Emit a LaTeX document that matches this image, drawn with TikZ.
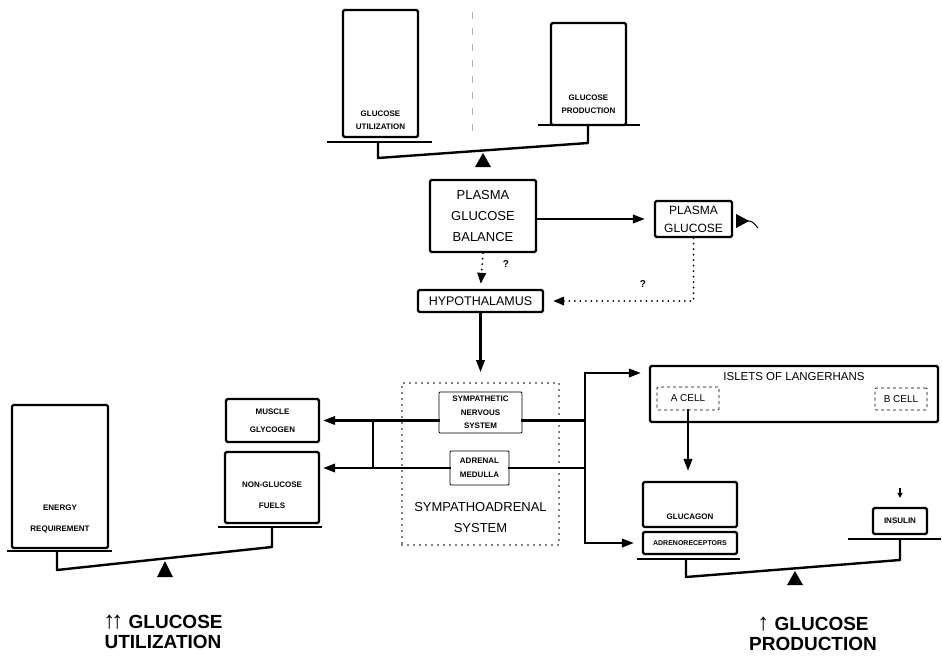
\documentclass[tikz,border=0pt]{standalone}
\usepackage{fontspec}
\setmainfont{Liberation Sans}
\usepackage{tikz}
\usetikzlibrary{positioning, arrows.meta, calc}

\begin{document}
\begin{tikzpicture}[x=1pt, y=-1pt,
    every node/.style={inner sep=0pt, align=center},
    box/.style={draw, line width=2.3pt, rounded corners=1.5pt},
    thinbox/.style={draw, line width=0.8pt, rounded corners=1pt},
    cellbox/.style={draw, line width=0.7pt, dashed, rounded corners=1pt},
    dotbox/.style={draw, line width=1.8pt, line cap=round, dash pattern=on 0pt off 6pt},
    midtxt/.style={font=\fontsize{13}{21}\selectfont},
    tinytxt/.style={font=\bfseries\fontsize{8}{13.5}\selectfont},
    bigcap/.style={font=\bfseries\fontsize{19}{20.5}\selectfont},
    link/.style={line width=2.2pt, line cap=rect},
    flow/.style={link, -{Triangle[length=12pt,width=8.5pt]}},
    query/.style={line width=2pt, line cap=round, dash pattern=on 0pt off 5.5pt, -{Triangle[length=11pt,width=8.5pt]}},
    pan/.style={line width=2pt},
    beam/.style={line width=2.4pt, line join=round}]
    \useasboundingbox (0,0) rectangle (942,658);

    % Top balance
    \node[box, minimum width=75pt, minimum height=127pt] (utilbox) at (380.5,73.5) {};
    \node[tinytxt, above=8pt of utilbox.south] (utiltxt) {GLUCOSE\\UTILIZATION};
    \node[box, minimum width=75pt, minimum height=102pt] (prodbox) at (588.5,74) {};
    \node[tinytxt, above=12pt of prodbox.south] (prodtxt) {GLUCOSE\\PRODUCTION};
    \draw[pan] (327,142) -- (432,142);
    \draw[pan] (538,125) -- (640,125);
    \draw[beam] (378,142) -- (378,158) -- (588,143) -- (588,125);
    \fill (483,153) -- (491,167) -- (475,167) -- cycle;
    \draw[gray!60, line width=0.6pt, dash pattern=on 7pt off 9pt] (472,12) -- (472,134);

    % Plasma glucose and hypothalamus
    \node[box, midtxt, minimum width=106pt, minimum height=72pt] (balance) at (483,216) {PLASMA\\GLUCOSE\\BALANCE};
    \node[box, font=\fontsize{12}{18}\selectfont, minimum width=77pt, minimum height=36pt] (plasma) at (693.5,219) {PLASMA\\GLUCOSE};
    \node[box, font=\fontsize{12.5}{14}\selectfont, minimum width=125pt, minimum height=22pt] (hypo) at (480.5,301) {HYPOTHALAMUS};
    \coordinate (needle) at ($(plasma.east)+(3,2)$);
    \fill (needle) ++(0,-7) -- ++(13,7) -- ++(-13,7) -- cycle;
    \draw[line width=1pt] (746,221) .. controls (752,221) .. (758,228);

    \draw[flow, shorten >=9pt] (balance.east |- plasma) -- (plasma.west);
    \draw[query, shorten >=5pt] (balance.south) -- (hypo.north);
    \draw[query, shorten >=9pt] (plasma.south) |- (hypo.east);
    \node[font=\bfseries\fontsize{10}{12}\selectfont] (q1) at (506,264) {?};
    \node[font=\bfseries\fontsize{10}{12}\selectfont] (q2) at (643,284) {?};

    % Sympathoadrenal system
    \node[dotbox, minimum width=157pt, minimum height=162pt] (sas) at (480.5,464) {};
    \node[font=\fontsize{13}{21}\selectfont, above=13pt of sas.south] (sastxt) {SYMPATHOADRENAL\\SYSTEM};
    \node[thinbox, tinytxt, minimum width=83pt, minimum height=41pt] (sns) at (480.5,412.5) {SYMPATHETIC\\NERVOUS\\SYSTEM};
    \node[thinbox, tinytxt, minimum width=59pt, minimum height=34pt] (adm) at (479.5,468) {ADRENAL\\MEDULLA};
    \draw[flow, shorten >=10pt] (hypo.south) -- (sas.north);

    % Utilization side
    \node[box, minimum width=96pt, minimum height=143pt] (energy) at (60,476.5) {};
    \node[font=\bfseries\fontsize{8}{21}\selectfont, above=16pt of energy.south] (energytxt) {ENERGY\\REQUIREMENT};
    \node[box, font=\bfseries\fontsize{8}{18}\selectfont, minimum width=93pt, minimum height=43pt] (glyco) at (272.5,420.5) {MUSCLE\\GLYCOGEN};
    \node[box, minimum width=94pt, minimum height=71pt] (fuels) at (272,487.5) {};
    \node[font=\bfseries\fontsize{8}{21}\selectfont, above=15pt of fuels.south] (fuelstxt) {NON-GLUCOSE\\FUELS};
    \draw[pan] (7,551) -- (112,551);
    \draw[pan] (218,527) -- (322,527);
    \draw[beam] (57,551) -- (57,570) -- (272,547) -- (272,527);
    \fill (165,561) -- (173,577) -- (157,577) -- cycle;

    \coordinate (ljoin) at (373,0);
    \draw[flow, shorten >=3pt] (sns.west |- glyco) -- (glyco.east);
    \draw[flow, shorten >=3pt] (adm.west) -- (adm.west -| fuels.east);
    \draw[link] (ljoin |- glyco) -- (ljoin |- adm);

    % Production side
    \node[box, minimum width=288pt, minimum height=56pt] (islets) at (794,394) {};
    \node[font=\fontsize{11.5}{14}\selectfont, below=7pt of islets.north] (isltxt) {ISLETS OF LANGERHANS};
    \node[cellbox, font=\fontsize{10}{12}\selectfont, minimum width=62pt, minimum height=23pt] (acell) at (688,398.5) {A CELL};
    \node[cellbox, font=\fontsize{10}{12}\selectfont, minimum width=52pt, minimum height=22pt] (bcell) at (901,399) {B CELL};
    \node[box, minimum width=94pt, minimum height=45pt] (glucagon) at (690,504.5) {};
    \node[tinytxt, above=8pt of glucagon.south] (glutxt) {GLUCAGON};
    \node[box, font=\bfseries\fontsize{7}{9}\selectfont, minimum width=94pt, minimum height=22pt] (recept) at (690,543) {ADRENORECEPTORS};
    \node[box, tinytxt, minimum width=54pt, minimum height=26pt] (insulin) at (900,521) {INSULIN};
    \draw[pan] (637,559) -- (740,559);
    \draw[pan] (848,539) -- (941,539);
    \draw[beam] (686,559) -- (686,577) -- (900,560) -- (900,539);
    \fill (795,571) -- (803,585) -- (787,585) -- cycle;

    \coordinate (rjoin) at (585,373);
    \draw[link] (sns.east |- glyco) -- (rjoin |- glyco);
    \draw[link] (adm.east) -- (rjoin |- adm);
    \draw[link] (rjoin) -- (rjoin |- recept);
    \draw[flow, shorten >=8pt] (rjoin) -- (islets.west |- rjoin);
    \draw[flow, shorten >=8pt] (rjoin |- recept) -- (recept.west);
    \draw[flow, shorten >=10pt] (acell.south) -- (acell.south |- glucagon.north);
    \coordinate (btip) at (900,488);
    \draw[line width=1.2pt, -{Triangle[length=5pt,width=5pt]}, shorten >=9pt] (btip) -- (insulin.north);

    % Captions
    \node[bigcap] (utilcap) at (163,632) {{\fontsize{24}{18}\selectfont ↑\kern-4pt↑}\ GLUCOSE\\UTILIZATION};
    \node[bigcap] (prodcap) at (813,634) {{\fontsize{24}{18}\selectfont ↑}\ GLUCOSE\\PRODUCTION};
\end{tikzpicture}
\end{document}
